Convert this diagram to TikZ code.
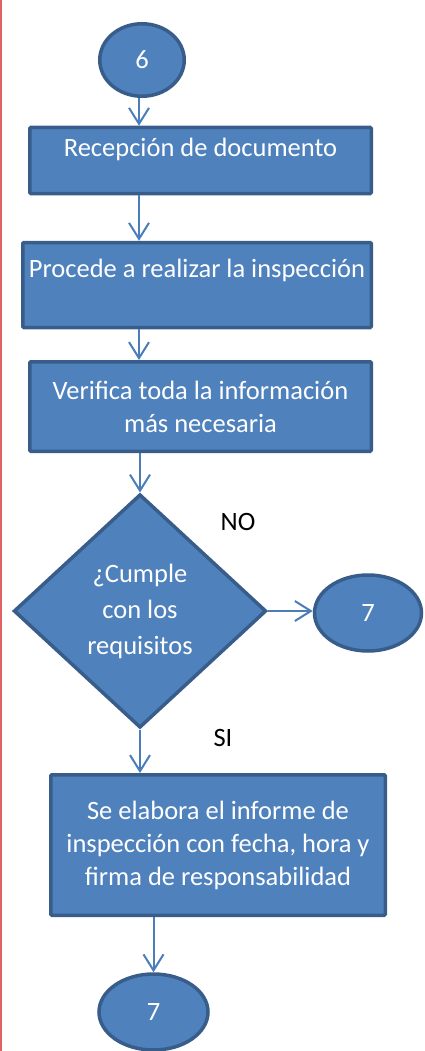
\documentclass[tikz,border=0pt]{standalone}
\usepackage{fontspec}
\setmainfont{Carlito}
\usetikzlibrary{shapes.geometric,positioning,arrows.meta}
\definecolor{boxfill}{HTML}{4F81BD}
\definecolor{boxline}{HTML}{385D8A}
\definecolor{flowline}{HTML}{4A7EBB}
\definecolor{marginred}{HTML}{E06464}

\begin{document}
\begin{tikzpicture}[x=1pt, y=-1pt,
  box/.style={draw=boxline, fill=boxfill, line width=3.5pt, rounded corners=1pt, text=white, align=center, font=\fontsize{26.5}{33}\selectfont},
  conn/.style={draw=boxline, fill=boxfill, line width=3.5pt, ellipse, inner sep=0pt, text=white, font=\fontsize{26.5}{33}\selectfont},
  decision/.style={draw=boxline, fill=boxfill, line width=3.5pt, diamond, inner sep=0pt, text=white, align=center, font=\fontsize{26.5}{36}\selectfont},
  lbl/.style={inner sep=0pt, font=\fontsize{26.5}{33}\selectfont},
  flow/.style={draw=flowline, line width=2pt, -{Straight Barb[length=16pt,width=20pt]}}]
\useasboundingbox (0,0) rectangle (425,1051);
\draw[marginred, line width=2pt] (1,0) -- (1,1051);

\coordinate (axis) at (139, 0);
\node[conn, minimum width=84.5pt, minimum height=72.5pt] at (142, 60) (c6) {6};

\node[box, minimum width=341.5pt, text height=20pt, text depth=27pt, inner ysep=9.5pt] at (200.5, 160.5) (b1) {Recepción de documento};
\node[box, minimum width=348.5pt, text height=20pt, text depth=36pt, inner ysep=14.5pt] at (197, 285) (b2) {Procede a realizar la inspección};
\node[box, minimum width=341.5pt, minimum height=89.5pt] at (200.5, 406.5) (b3) {Verifica toda la información\\más necesaria};

\node[decision, minimum width=252.5pt, minimum height=233.5pt] at (140, 611) (dec) {¿Cumple\\con los\\requisitos};
\node[conn, minimum width=107pt, minimum height=76pt] at (368, 613) (c7r) {7};
\node[lbl] at (238, 522) (no) {NO};
\node[lbl] at (223, 738) (si) {SI};

\node[box, minimum width=334.5pt, minimum height=140.5pt] at (218, 845) (b4) {Se elabora el informe de\\inspección con fecha, hora y\\firma de responsabilidad};
\node[conn, minimum width=109pt, minimum height=76pt] at (153.5, 1012) (c7b) {7};

\draw[flow] (c6.south -| axis) -- (b1.north -| axis);
\draw[flow] (b1.south -| axis) -- (b2.north -| axis);
\draw[flow] (b2.south -| axis) -- (b3.north -| axis);
\draw[flow] (b3.south -| dec.north) -- (dec.north);
\draw[flow] (dec.east) -- (dec.east -| c7r.west);
\draw[flow] (dec.south) -- (dec.south |- b4.north);
\draw[flow] (b4.south -| c7b.north) -- (c7b.north);
\end{tikzpicture}
\end{document}
